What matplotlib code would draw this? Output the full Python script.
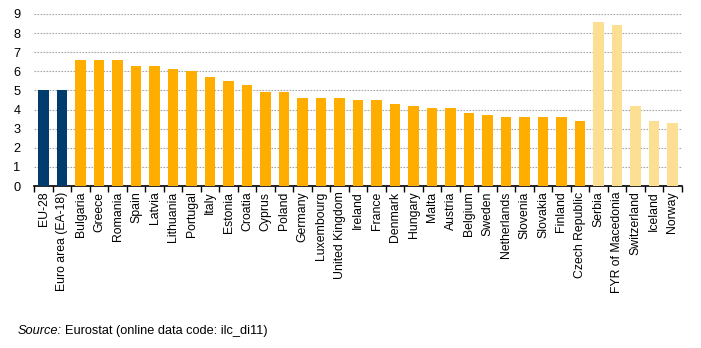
import numpy as np
import matplotlib
matplotlib.use("Agg")
import matplotlib.pyplot as plt

plt.rcParams['font.family'] = ['Liberation Sans', 'DejaVu Sans']

countries = ['EU-28', 'Euro area (EA-18)', 'Bulgaria', 'Greece', 'Romania', 'Spain',
             'Latvia', 'Lithuania', 'Portugal', 'Italy', 'Estonia', 'Croatia', 'Cyprus',
             'Poland', 'Germany', 'Luxembourg', 'United Kingdom', 'Ireland', 'France',
             'Denmark', 'Hungary', 'Malta', 'Austria', 'Belgium', 'Sweden', 'Netherlands',
             'Slovenia', 'Slovakia', 'Finland', 'Czech Republic', 'Serbia',
             'FYR of Macedonia', 'Switzerland', 'Iceland', 'Norway']
values = [5.0, 5.0, 6.6, 6.6, 6.6, 6.3,
          6.3, 6.1, 6.0, 5.7, 5.5, 5.3, 4.9,
          4.9, 4.6, 4.6, 4.6, 4.5, 4.5,
          4.3, 4.2, 4.1, 4.1, 3.8, 3.7, 3.6,
          3.6, 3.6, 3.6, 3.4, 8.6,
          8.4, 4.2, 3.4, 3.3]
# group: 0 = EU aggregates, 1 = member states, 2 = non-members
groups = [0, 0] + [1] * 28 + [2] * 5

colours = {0: '#003C6E', 1: '#FFAE00', 2: '#FDDF94'}

fig = plt.figure(figsize=(7.01, 3.48), dpi=100)
ax = fig.add_axes([0.049, 0.4655, 0.9235, 0.4945])

x = np.arange(len(countries))
ax.bar(x, values, width=0.58, color=[colours[g] for g in groups], zorder=3)

ax.set_xlim(-0.5, len(countries) - 0.5)
ax.set_ylim(0, 9)
ax.set_yticks(range(0, 10))
ax.yaxis.grid(True, linestyle=(0, (1.5, 1.2)), color='#A6A6A6', linewidth=0.8, zorder=0)

ax.set_xticks(x)
ax.set_xticklabels(countries, rotation=90, fontsize=8.8)
ax.set_xticks(np.arange(-0.5, len(countries)), minor=True)
ax.tick_params(axis='x', which='major', length=0, pad=4)
ax.tick_params(axis='x', which='minor', length=4, width=1, color='black', direction='out')
ax.tick_params(axis='y', length=0, pad=10, labelsize=9.2)

for s in ['left', 'right', 'top']:
    ax.spines[s].set_visible(False)
ax.spines['bottom'].set_color('black')
ax.spines['bottom'].set_linewidth(1.2)

t1 = fig.text(18 / 701, 1 - 331 / 348, 'Source:', fontsize=9.2, style='italic', va='center')
fig.canvas.draw()
bb = t1.get_window_extent()
fig.text(bb.x1 / 701 + 3 / 701, 1 - 331 / 348, 'Eurostat (online data code: ilc_di11)',
         fontsize=9.2, va='center')

fig.savefig('out.png', dpi=100)
